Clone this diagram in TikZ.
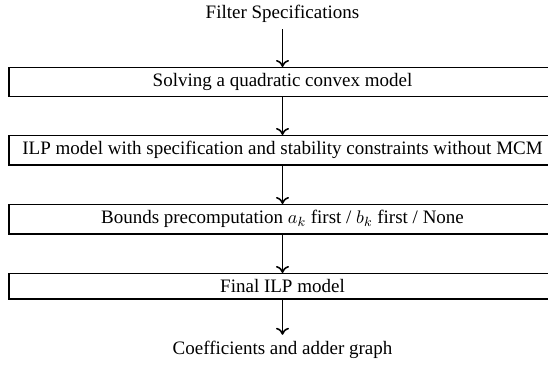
\documentclass[tikz,border=0pt]{standalone}
\usepackage{fontspec}
\setmainfont{Liberation Serif}
\usetikzlibrary{arrows.meta}

\tikzset{every picture/.style={line width=0.6pt}}
\tikzset{
  stage/.style={draw, line width=0.7pt, minimum width=328.2pt, inner xsep=2pt, inner ysep=3.6pt, anchor=north, font=\fontsize{11.4}{13.7}\selectfont},
  io/.style={inner sep=3.6pt, font=\fontsize{11.4}{13.7}\selectfont},
  flow/.style={-{To[length=4.2pt,width=7.8pt]}, line width=0.95pt}
}

\begin{document}
\begin{tikzpicture}[x=0.6pt,y=0.6pt,yscale=-1,xscale=1]
        %set diagram size to 548 x 364
        \useasboundingbox (0,0) rectangle (548,364);
        \clip (0,0) rectangle (548,364);

        % Text Node
        \node [io] (spec) at (282.5,14) {Filter Specifications};
        % Box
        \node [stage] (qcm) at (282.5,67) {Solving a quadratic convex model};
        % Box
        \node [stage] (ilp) at (282.5,135) {ILP model with specification and stability constraints without MCM};
        % Box
        \node [stage] (bnd) at (282.5,204) {Bounds precomputation $a_k$ first / $b_k$ first / None};
        % Box
        \node [stage] (fin) at (282.5,273) {Final ILP model};
        % Text Node
        \node [io] (coef) at (282.5,350) {Coefficients and adder graph};

        %Arrows
        \draw [flow] (spec) -- (qcm);
        \draw [flow] (qcm) -- (ilp);
        \draw [flow] (ilp) -- (bnd);
        \draw [flow] (bnd) -- (fin);
        \draw [flow] (fin) -- (coef);

\end{tikzpicture}
\end{document}
